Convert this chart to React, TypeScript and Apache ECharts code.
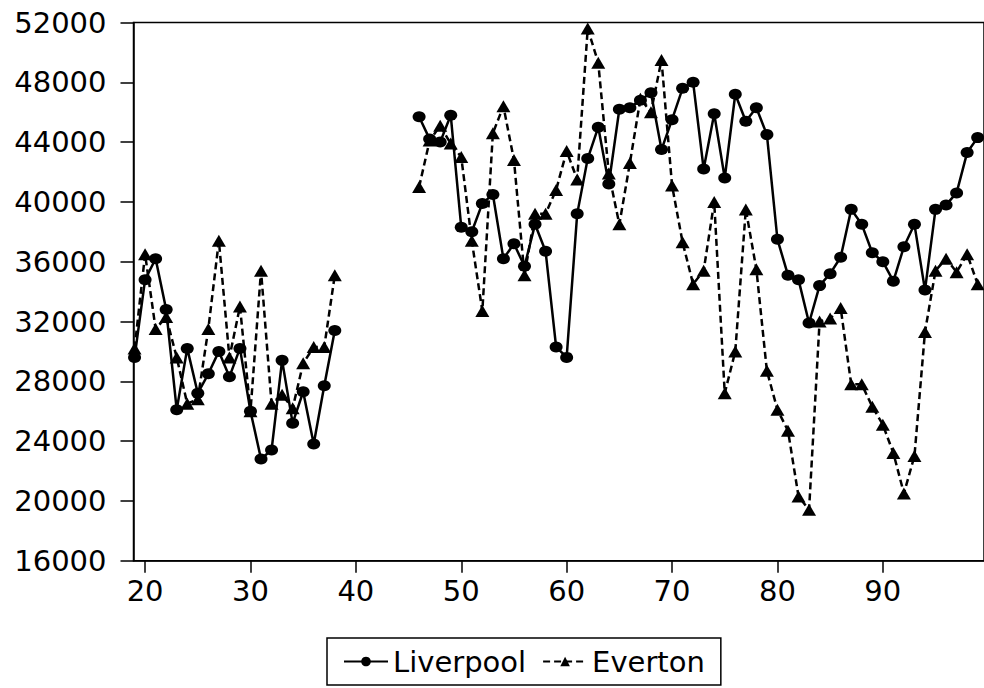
import React, { useEffect, useRef } from "react";
import * as echarts from "echarts";

// Years (two-digit, 1919-1938 and 1946-1999)
const preWarStart = 19;
const postWarStart = 46;

const liverpoolPre = [29600, 34800, 36200, 32800, 26100, 30200, 27200, 28500, 30000, 28300, 30200, 26000, 22800, 23400, 29400, 25200, 27300, 23800, 27700, 31400];
const evertonPre = [30200, 36500, 31500, 32300, 29600, 26500, 26800, 31500, 37400, 29600, 33000, 26000, 35400, 26500, 27100, 26200, 29200, 30300, 30300, 35100];

const liverpoolPost = [45700, 44200, 44000, 45800, 38300, 38000, 39900, 40500, 36200, 37200, 35700, 38500, 36700, 30300, 29600, 39200, 42900, 45000, 41200, 46200, 46300, 46800, 47300, 43500, 45500, 47600, 48000, 42200, 45900, 41600, 47200, 45400, 46300, 44500, 37500, 35100, 34800, 31900, 34400, 35200, 36300, 39500, 38500, 36600, 36000, 34700, 37000, 38500, 34100, 39500, 39800, 40600, 43300, 44300];
const evertonPost = [41000, 44100, 45100, 43900, 43000, 37400, 32700, 44600, 46400, 42800, 35100, 39200, 39200, 40800, 43400, 41500, 51600, 49300, 41900, 38500, 42600, 46900, 46000, 49500, 41100, 37300, 34500, 35400, 40000, 27200, 30000, 39500, 35500, 28700, 26100, 24700, 20300, 19400, 32000, 32200, 32900, 27800, 27800, 26300, 25100, 23200, 20500, 23000, 31300, 35400, 36200, 35300, 36500, 34500];

const xTickValues = [20, 30, 40, 50, 60, 70, 80, 90];
const yMin = 16000;
const yMax = 52000;
const yStep = 4000;

function buildSeries(pre: number[], post: number[]) {
  const out: (number | null)[][] = [];
  pre.forEach((v, i) => out.push([preWarStart + i, v]));
  out.push([42, null]);
  post.forEach((v, i) => out.push([postWarStart + i, v]));
  return out;
}

const FONT = "DejaVu Sans";

export default function App() {
  const ref = useRef<HTMLDivElement>(null);
  useEffect(() => {
    document.body.style.margin = "0";
    if (!ref.current) return;
    const chart = echarts.init(ref.current, undefined, { renderer: "svg" });
    chart.setOption({
      animation: false,
      backgroundColor: "#fff",
      grid: {
        left: 133.5,
        top: 22.5,
        height: 538.2,
        width: 863,
        show: true,
        borderColor: "#000",
        borderWidth: 1.5,
        backgroundColor: "transparent",
      },
      xAxis: {
        type: "value",
        min: 18.9,
        max: 99.6,
        axisLine: { show: true, onZero: false, lineStyle: { color: "#000", width: 1.5 } },
        axisTick: { show: true, length: 12, lineStyle: { color: "#000", width: 1.5 }, customValues: xTickValues },
        axisLabel: {
          customValues: xTickValues,
          color: "#000",
          fontFamily: FONT,
          fontSize: 29,
          margin: 16,
          formatter: (v: number) => String(v),
        },
        splitLine: { show: false },
      },
      yAxis: {
        type: "value",
        min: yMin,
        max: yMax,
        interval: yStep,
        axisLine: { show: true, lineStyle: { color: "#000", width: 1.5 } },
        axisTick: { show: true, length: 13, lineStyle: { color: "#000", width: 1.5 } },
        axisLabel: {
          color: "#000",
          fontFamily: FONT,
          fontSize: 29,
          margin: 27,
          formatter: (v: number) => String(v),
        },
        splitLine: { show: false },
      },
      legend: {
        left: 327,
        top: 638,
        orient: "horizontal",
        borderColor: "#000",
        borderWidth: 1.5,
        padding: [9, 16, 9, 16],
        itemWidth: 44,
        itemHeight: 12,
        itemGap: 16,
        textStyle: { color: "#000", fontFamily: FONT, fontSize: 29 },
        data: ["Liverpool", "Everton"],
      },
      series: [
        {
          name: "Liverpool",
          type: "line",
          data: buildSeries(liverpoolPre, liverpoolPost),
          connectNulls: false,
          symbol: "circle",
          symbolSize: [13, 11],
          showAllSymbol: true,
          itemStyle: { color: "#000" },
          lineStyle: { color: "#000", width: 2.5, type: "solid" },
          z: 3,
        },
        {
          name: "Everton",
          type: "line",
          data: buildSeries(evertonPre, evertonPost),
          connectNulls: false,
          symbol: "triangle",
          symbolSize: [14, 12],
          showAllSymbol: true,
          itemStyle: { color: "#000" },
          lineStyle: { color: "#000", width: 2.5, type: [7, 4] },
          z: 2,
        },
      ],
    });
    return () => chart.dispose();
  }, []);
  return <div ref={ref} style={{ width: 984, height: 688 }} />;
}
